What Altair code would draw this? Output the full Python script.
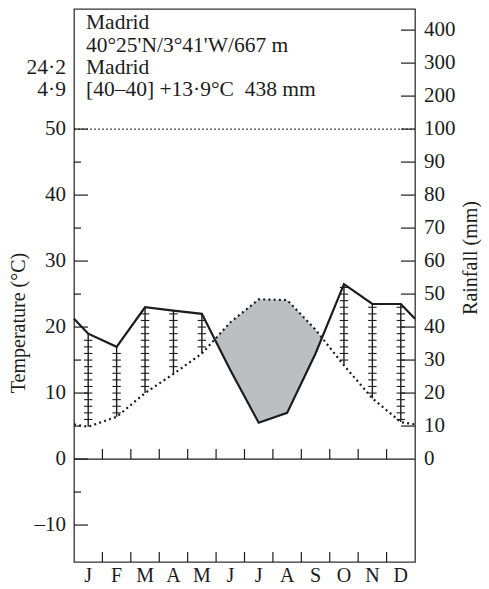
import math
import altair as alt
import pandas as pd

# ---------------- data ----------------
months = ["J", "F", "M", "A", "M", "J", "J", "A", "S", "O", "N", "D"]
temp = [4.9, 6.4, 10.0, 12.9, 16.0, 20.7, 24.2, 24.1, 19.6, 14.2, 9.2, 5.6]   # °C
rain = [38, 34, 46, 45, 44, 27, 11, 14, 32, 53, 47, 47]                       # mm
left_tick_values = [-10, -5, 0, 5, 10, 15, 20, 25, 30, 35, 40, 45, 50]
left_label_values = [-10, 0, 10, 20, 30, 40, 50]
rain_tick_values = [10, 20, 30, 40, 50, 60, 70, 80, 90, 100, 200, 300, 400]
rain_label_values = [0, 10, 20, 30, 40, 50, 60, 70, 80, 90, 100, 200, 300, 400]
header_lines = ["Madrid", "40°25'N/3°41'W/667 m", "Madrid", "[40–40] +13·9°C\u2002438 mm"]
side_values = ["24·2", "4·9"]

FONT = "Liberation Serif"
INK = "#1c1c1c"
W, H = 341, 553
YMIN, YMAX = -15.6, 68.2
PX_PER_X = W / 12.0
PX_PER_Y = H / (YMAX - YMIN)
HEADER_BASELINES = [20, 42.5, 64.5, 87]


def rain_eq(mm):
    return mm / 2.0 if mm <= 100 else 50 + (mm - 100) / 20.0


xs = alt.Scale(domain=[0, 12], nice=False, zero=False)
ys = alt.Scale(domain=[YMIN, YMAX], nice=False, zero=False)

# line points (with wrap-around edge values)
edge_t = (temp[0] + temp[-1]) / 2
edge_r = (rain_eq(rain[0]) + rain_eq(rain[-1])) / 2
pts = [(0.0, edge_t, edge_r)] + [(i + 0.5, temp[i], rain_eq(rain[i])) for i in range(12)] + [(12.0, edge_t, edge_r)]

lines_df = pd.DataFrame({"x": [p[0] for p in pts], "t": [p[1] for p in pts], "r": [p[2] for p in pts]})

# arid area with crossing points
area_pts = []
for k in range(len(pts) - 1):
    x1, t1, r1 = pts[k]
    x2, t2, r2 = pts[k + 1]
    area_pts.append((x1, t1, r1))
    d1, d2 = t1 - r1, t2 - r2
    if d1 * d2 < 0:
        f = d1 / (d1 - d2)
        xc = x1 + f * (x2 - x1)
        tc = t1 + f * (t2 - t1)
        area_pts.append((xc, tc, tc))
area_pts.append(pts[-1])
area_df = pd.DataFrame({
    "x": [p[0] for p in area_pts],
    "top": [max(p[1], p[2]) for p in area_pts],
    "bot": [p[2] for p in area_pts],
})

# humid hatching
hatch_rows, bar_rows = [], []
half_bar = 4.2 / PX_PER_X
for i in range(12):
    t, r = temp[i], rain_eq(rain[i])
    if r > t:
        hatch_rows.append({"x": i + 0.5, "y": t, "y2": r})
        k = math.ceil(t + 0.4)
        while k <= r - 0.3:
            bar_rows.append({"x": i + 0.5 - half_bar, "x2": i + 0.5 + half_bar, "y": k})
            k += 1
hatch_df = pd.DataFrame(hatch_rows)
bar_df = pd.DataFrame(bar_rows)

# reference lines
ref_df = pd.DataFrame({"x": [0, 0], "x2": [12, 12], "y": [50, 0], "kind": ["dot", "zero"]})

# axis ticks
lt_df = pd.DataFrame({
    "y": left_tick_values,
    "x": [0] * len(left_tick_values),
    "x2": [(14 if v % 10 == 0 else 7) / PX_PER_X for v in left_tick_values],
})
rt_df = pd.DataFrame({
    "y": [rain_eq(v) for v in rain_tick_values],
    "x": [12 - 14 / PX_PER_X] * len(rain_tick_values),
    "x2": [12] * len(rain_tick_values),
})
mt_len = 10 / PX_PER_Y
mt_df = pd.DataFrame({
    "x": list(range(1, 12)) * 2,
    "y": [0] * 11 + [YMIN] * 11,
    "y2": [mt_len] * 11 + [YMIN + mt_len] * 11,
})

ll_df = pd.DataFrame({"y": left_label_values,
                      "label": [("–" + str(-v)) if v < 0 else str(v) for v in left_label_values]})
rl_df = pd.DataFrame({"y": [rain_eq(v) for v in rain_label_values], "label": [str(v) for v in rain_label_values]})
ml_df = pd.DataFrame({"x": [i + 0.5 for i in range(12)], "label": months})


def X(f):
    return alt.X(f, type="quantitative", scale=xs, axis=None)


def Y(f):
    return alt.Y(f, type="quantitative", scale=ys, axis=None)


base_area = alt.Chart(area_df).mark_area(color="#bdbec2", opacity=1, interpolate="linear").encode(
    x=X("x"), y=Y("top"), y2="bot")

hatch = alt.Chart(hatch_df).mark_rule(color=INK, strokeWidth=1.4).encode(x=X("x"), y=Y("y"), y2="y2")
bars = alt.Chart(bar_df).mark_rule(color=INK, strokeWidth=1.1).encode(x=X("x"), x2="x2", y=Y("y"))

line50 = alt.Chart(ref_df).transform_filter(alt.datum.kind == "dot").mark_rule(
    color=INK, strokeWidth=1, strokeDash=[2, 2]).encode(x=X("x"), x2="x2", y=Y("y"))
line0 = alt.Chart(ref_df).transform_filter(alt.datum.kind == "zero").mark_rule(
    color=INK, strokeWidth=1.3).encode(x=X("x"), x2="x2", y=Y("y"))

tline = alt.Chart(lines_df).mark_line(color=INK, strokeWidth=2.2, strokeDash=[2, 3.2]).encode(
    x=X("x"), y=Y("t"), order="x:Q")
rline = alt.Chart(lines_df).mark_line(color=INK, strokeWidth=2.2).encode(
    x=X("x"), y=Y("r"), order="x:Q")

lticks = alt.Chart(lt_df).mark_rule(color=INK, strokeWidth=1.2).encode(x=X("x"), x2="x2", y=Y("y"))
rticks = alt.Chart(rt_df).mark_rule(color=INK, strokeWidth=1.2).encode(x=X("x"), x2="x2", y=Y("y"))
mticks = alt.Chart(mt_df).mark_rule(color=INK, strokeWidth=1.2).encode(x=X("x"), y=Y("y"), y2="y2")

llab = alt.Chart(ll_df).mark_text(font=FONT, fontSize=21, align="right", baseline="middle", color=INK).encode(
    x=alt.value(-8), y=Y("y"), text="label:N")
rlab = alt.Chart(rl_df).mark_text(font=FONT, fontSize=21, align="left", baseline="middle", color=INK).encode(
    x=alt.value(W + 9), y=Y("y"), text="label:N")
mlab = alt.Chart(ml_df).mark_text(font=FONT, fontSize=20, align="center", baseline="alphabetic", color=INK).encode(
    x=X("x"), y=alt.value(H + 20), text="label:N")

hd_layers = []
for line, yb in zip(header_lines, HEADER_BASELINES):
    hd_layers.append(alt.Chart(pd.DataFrame({"t": [line]})).mark_text(
        font=FONT, fontSize=21.5, align="left", baseline="alphabetic", color=INK).encode(
        x=alt.value(12), y=alt.value(yb), text="t:N"))
for val, yb in zip(side_values, HEADER_BASELINES[2:]):
    hd_layers.append(alt.Chart(pd.DataFrame({"t": [val]})).mark_text(
        font=FONT, fontSize=21.5, align="right", baseline="alphabetic", color=INK).encode(
        x=alt.value(-8), y=alt.value(yb), text="t:N"))

ttitle = alt.Chart(pd.DataFrame({"t": ["Temperature (°C)"]})).mark_text(
    font=FONT, fontSize=20, angle=270, align="center", baseline="alphabetic", color=INK).encode(
    x=alt.value(-49), y=alt.value(314), text="t:N")
rtitle = alt.Chart(pd.DataFrame({"t": ["Rainfall (mm)"]})).mark_text(
    font=FONT, fontSize=20, angle=270, align="center", baseline="alphabetic", color=INK).encode(
    x=alt.value(W + 62), y=alt.value(249), text="t:N")

chart = alt.layer(
    base_area, hatch, bars, line50, line0, tline, rline, lticks, rticks, mticks,
    llab, rlab, mlab, *hd_layers, ttitle, rtitle,
).properties(
    width=W, height=H,
    autosize=alt.AutoSizeParams(type="none"),
    padding={"left": 66, "top": 1, "right": 66, "bottom": 27},
).configure_view(stroke="#333333", strokeWidth=1.3)

chart.save("out.html", embed_options={"renderer": "svg", "actions": False})
